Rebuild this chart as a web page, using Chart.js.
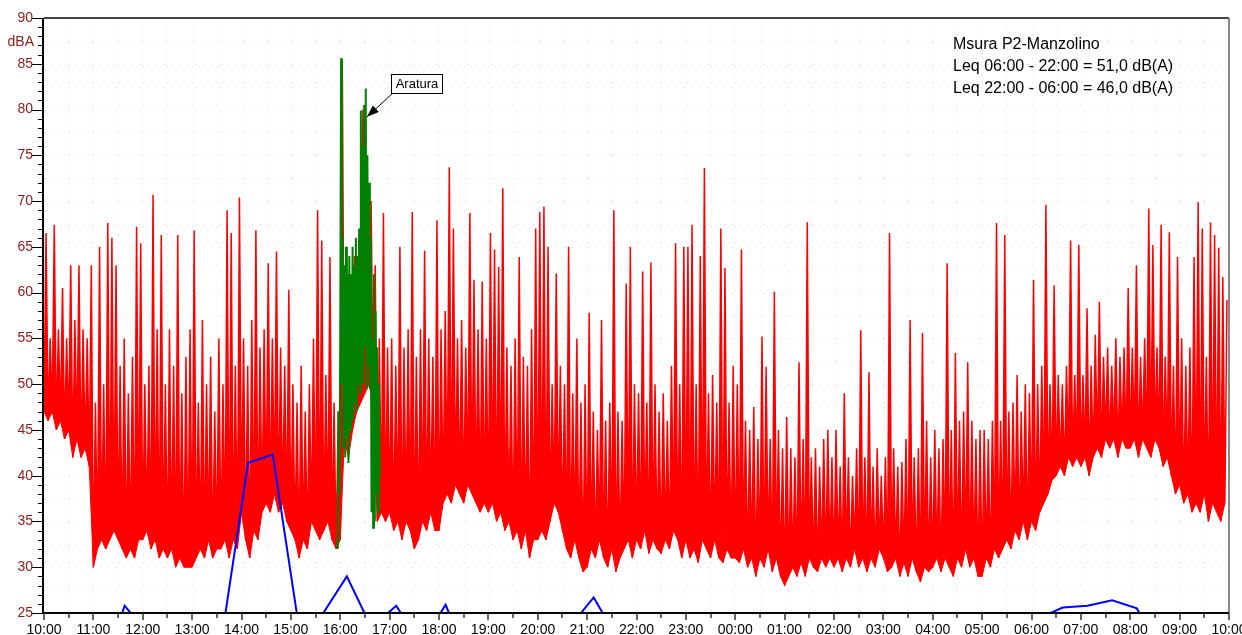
<!DOCTYPE html>
<html><head><meta charset="utf-8">
<script src="https://cdn.jsdelivr.net/npm/chart.js@4.4.1/dist/chart.umd.min.js"></script>
<style>html,body{margin:0;padding:0;background:#fff;overflow:hidden}canvas{display:block}</style>
</head><body>
<canvas id="c" width="1242" height="635"></canvas>
<script>
// ---- tick labels (x axis, one per hour, minutes from 10:00) ----
const hourLabels = ['10:00','11:00','12:00','13:00','14:00','15:00','16:00','17:00','18:00','19:00','20:00','21:00','22:00','23:00','00:00','01:00','02:00','03:00','04:00','05:00','06:00','07:00','08:00','09:00','10:00'];

// ---- red series: per 5-minute bin, the low and the high level (dBA) ----
const redLow = [
 47,46,47,45,46,44,45,42,44,42,43,41,
 30,32,33,32,33,34,33,32,31,32,31,33,
 33,34,32,33,31,32,31,32,30,31,30,30,
 30,31,32,31,33,31,32,32,33,31,33,32,
 36,33,31,34,33,36,37,36,38,36,37,35,
 34,33,31,33,32,35,34,33,34,35,33,32,
 33,44,42,45,47,48,49,50,48,35,36,35,
 36,34,35,33,35,34,32,33,35,34,36,34,
 34,37,38,37,39,38,37,39,38,37,36,37,
 36,37,35,36,34,35,33,34,32,34,31,33,
 33,34,33,35,37,36,34,32,31,33,31,29.5,
 30,32,31,33,31,30,32,29.5,31,32,33,31,
 33,32,34,31.5,33,32,31.5,33,32,34,33,31,
 33,31,32,30.5,33,32,31,33,31,30.5,32,31,
 31,30.5,32,30,31,29,31,30,32,29.5,31,29,
 28,29,30,29,30.5,29,31,30,29.5,31,30,31,
 30,31,29.5,31,30,32,30,31,29.5,31,30,32,
 31,29.5,30,31,29,30.5,29,31,29.5,28.4,30,29.5,
 30,31,29.5,31,30,29,31,30,32,30,31,29,
 29,31,30,32,31,32,33,32,34,33,35,33,
 35,34,36,37,38,39.5,40,41,40,42,41,42,
 41,42,40,42,43,42,44,43,44,42,44,43,
 43,44,42,44,43,42,44,43,41,42,40,38,
 39,37,38,36,37,36,38,35,37,36,35,37
];
const redHigh = [
 66.5,55,67.4,56,60.5,55,63,57,63,56,55,63,
 48,65,50,67.6,66,63,52,55,49,53,67.2,65.4,
 50,52,70.7,56,66.3,50,56,52,66.3,49,53,56,
 66.8,48,57,50,53,47,55,50,69,66.5,52,70.4,
 55,52,57,66.8,54,56,63.2,55,64.5,54,52,60.3,
 50,48,52,47,50,55,69,65.7,51,63.9,48,47,
 85,64,62,64,66,80,66,70,63,55,68.7,54,
 55,52,65,54,56,68.8,53,56,64.6,55,53,67.9,
 56,58,73.7,67,55,57,54,68.7,61.4,56,61.2,55,
 66.5,64.7,62.8,71.4,54,52,55,63.9,53,52,56,67,
 68.8,69.4,65,50,62.1,52,50,65,49,55,48,50,
 57.8,47,45,57,46,48,69,47,46,61,65,50,
 49,62.3,48,63.3,50,47,49,46,52,65.4,50,65,
 65,67.4,50,64,73.6,49,51,48,67,62.7,48,52,
 50,64.7,46,45,47.5,44,55.2,51.9,44,60.1,45,43,
 46.4,43,42,52.4,44,67.7,42,43,41,44,45,42,
 45,41,49,42,40,43,55.9,42,51.3,41,43,40,
 42,66.5,43,41,41.5,44,57,42,43,55.6,46,42,
 45,43,44,63.2,45,53.4,46,47,52.4,46,44,45,
 45,44,46,67.6,46,66.3,47,48,51,47,50,49,
 61.4,50,52,69.6,50,60.8,51,50,52,65.7,51,65.2,
 51,58.3,52,55.4,59,53,54,52,55,53,54,60.5,
 54,63,53,55,69.2,65.2,54,67.4,53,66.6,52,63.9,
 55,52,54,63.9,69.9,67,53,67.7,66.3,64.9,61.7,59.2
];
const redBinMinutes = 5;

// ---- green series ("Aratura"), one value per minute ----
const greenStartMinute = 356;
const greenValues = [33,32,47,38,55,85.6,50,66,43,63,42,65,44,62,41.4,64,45,62,47,65,46,63,48,66,47,64,50,67,49,79.9,52,76,50,80.5,54,82.3,49.5,75,52,72,49.5,66,36,55,34.3,62,35,58,38,54,36,50,40];

// ---- blue series, one value every 30 minutes starting 10:08 ----
const blueStartMinute = 8;
const blueStepMinutes = 30;
const blueValues = [20,19,17.6,25.8,22.5,20,19,23.5,41.4,42.3,24.5,24.8,29,23.4,25.8,21.5,25.9,19.4,20,21,20,23.4,26.7,22,20,19,18,19,20,18,17,18,19,20,19,18,19,20,21,22,24.4,25.6,25.8,26.4,25.5,20.6,19,18];

// ---- texts ----
const infoLines = ['Msura P2-Manzolino','Leq 06:00 - 22:00 = 51,0 dB(A)','Leq 22:00 - 06:00 = 46,0 dB(A)'];
const yUnit = 'dBA';
const note = {text:'Aratura', tipMinute:392.5, tipDb:79.2, boxMinute:421.7, boxDb:83.9};

// ---- build datasets ----
const redData = [];
redLow.forEach((v,i)=>{
  redData.push({x:i*redBinMinutes, y:v});
  redData.push({x:i*redBinMinutes + redBinMinutes/2, y:redHigh[i]});
});
const redFloor = redLow.map((v,i)=>({x:i*redBinMinutes, y:v}));
const greenData = greenValues.map((v,i)=>({x:greenStartMinute+i, y:v}));
const blueData = blueValues.map((v,i)=>({x:blueStartMinute+i*blueStepMinutes, y:v}));

const FONT = "'Liberation Sans', Arial, Helvetica, sans-serif";
const AXIS_RED = '#8b1a1a';

function line(ctx,x1,y1,x2,y2){ctx.beginPath();ctx.moveTo(x1,y1);ctx.lineTo(x2,y2);ctx.stroke();}

const overlay = {
  id:'overlay',
  beforeDatasetsDraw(chart){
    const {ctx, chartArea:a, scales:{x,y}} = chart;
    ctx.save();
    ctx.strokeStyle='#d6d6d6'; ctx.lineWidth=1; ctx.setLineDash([1,7]);
    for(let v=y.min+2.5; v<y.max; v+=2.5){const py=Math.round(y.getPixelForValue(v))+0.5; line(ctx,a.left,py,a.right,py);}
    for(let m=30; m<x.max; m+=30){const px=Math.round(x.getPixelForValue(m))+0.5; line(ctx,px,a.top,px,a.bottom);}
    ctx.restore();
  },
  afterDatasetsDraw(chart){
    const {ctx, scales:{x,y}} = chart;
    ctx.save();
    const bx = Math.round(x.getPixelForValue(note.boxMinute)), by = Math.round(y.getPixelForValue(note.boxDb));
    ctx.font = '13px '+FONT;
    const tw = ctx.measureText(note.text).width;
    const bw = Math.round(tw+8), bh = 19;
    const tx = x.getPixelForValue(note.tipMinute), ty = y.getPixelForValue(note.tipDb);
    const sx = bx+2, sy = by+bh;
    ctx.strokeStyle='#000'; ctx.fillStyle='#000'; ctx.lineWidth=1;
    line(ctx,sx,sy,tx,ty);
    const ang = Math.atan2(ty-sy, tx-sx), L=12, W=4.5;
    ctx.beginPath();
    ctx.moveTo(tx,ty);
    ctx.lineTo(tx-L*Math.cos(ang)+W*Math.sin(ang), ty-L*Math.sin(ang)-W*Math.cos(ang));
    ctx.lineTo(tx-L*Math.cos(ang)-W*Math.sin(ang), ty-L*Math.sin(ang)+W*Math.cos(ang));
    ctx.closePath(); ctx.fill();
    ctx.fillStyle='#fff'; ctx.fillRect(bx,by,bw,bh);
    ctx.strokeRect(bx+0.5,by+0.5,bw,bh);
    ctx.fillStyle='#000'; ctx.textAlign='center'; ctx.textBaseline='middle';
    ctx.fillText(note.text, bx+bw/2+0.5, by+bh/2+1);
    ctx.restore();
  },
  afterDraw(chart){
    const {ctx, chartArea:a, scales:{x,y}} = chart;
    ctx.save();
    ctx.lineWidth=2;
    ctx.strokeStyle='#444'; line(ctx,a.left,a.top,a.right,a.top);
    ctx.strokeStyle='#888'; line(ctx,a.right,a.top,a.right,a.bottom);
    ctx.strokeStyle='#000'; line(ctx,a.left-1,a.top,a.left-1,a.bottom+1); line(ctx,a.left-1,a.bottom,a.right,a.bottom);
    ctx.lineWidth=1; ctx.strokeStyle='#000';
    for(let v=y.min; v<=y.max; v++){
      const py=Math.round(y.getPixelForValue(v))+0.5;
      const len = (v%5===0)?11:5;
      line(ctx,a.left-1-len,py,a.left-1,py);
    }
    ctx.strokeStyle='#333'; ctx.lineWidth=1.5;
    for(let m=x.min; m<=x.max; m+=30){
      const px=Math.round(x.getPixelForValue(m));
      const len = (m%60===0)?7:5;
      line(ctx,px,a.bottom,px,a.bottom+len);
    }
    ctx.fillStyle=AXIS_RED; ctx.font='14px '+FONT; ctx.textAlign='right'; ctx.textBaseline='middle';
    ctx.fillText(yUnit, a.left-10, y.getPixelForValue(87.4));
    ctx.fillStyle='#000'; ctx.font='16px '+FONT; ctx.textAlign='left'; ctx.textBaseline='alphabetic';
    infoLines.forEach((t,i)=>ctx.fillText(t, a.right-276, a.top+31+i*22));
    ctx.restore();
  }
};

new Chart(document.getElementById('c'), {
  type:'line',
  data:{datasets:[
    {label:'blue', data:blueData, borderColor:'#0000ff', borderWidth:2, pointRadius:0, order:1, clip:0, fill:false},
    {label:'green', data:greenData, borderColor:'#008000', borderWidth:2, pointRadius:0, order:2, clip:0, fill:false},
    {label:'red', data:redData, borderColor:'#ff0000', backgroundColor:'#ff0000', borderWidth:1.5, pointRadius:0, order:3, clip:0, fill:{target:3}},
    {label:'redFloor', data:redFloor, borderColor:'#ff0000', borderWidth:1, pointRadius:0, order:4, clip:0, fill:false}
  ]},
  options:{
    responsive:false, animation:false, events:[],
    layout:{padding:{top:18,right:13,left:0,bottom:0}},
    plugins:{legend:{display:false}, tooltip:{enabled:false}, title:{display:false}, filler:{propagate:false}},
    elements:{line:{tension:0}},
    scales:{
      x:{type:'linear', min:0, max:1440,
        afterFit(s){s.height=22; s.paddingLeft=0; s.paddingRight=0;},
        ticks:{stepSize:60, autoSkip:false, maxRotation:0, minRotation:0, padding:9, color:'#000', font:{family:FONT,size:14},
          callback:(v)=>hourLabels[Math.round(v/60)]},
        grid:{display:false, drawTicks:false}, border:{display:false}},
      y:{min:25, max:90,
        afterFit(s){s.width=44; s.paddingTop=0; s.paddingBottom=0;},
        ticks:{stepSize:5, padding:11, color:AXIS_RED, font:{family:FONT,size:14}},
        grid:{display:false, drawTicks:false}, border:{display:false}}
    }
  },
  plugins:[overlay]
});
</script>
</body></html>
